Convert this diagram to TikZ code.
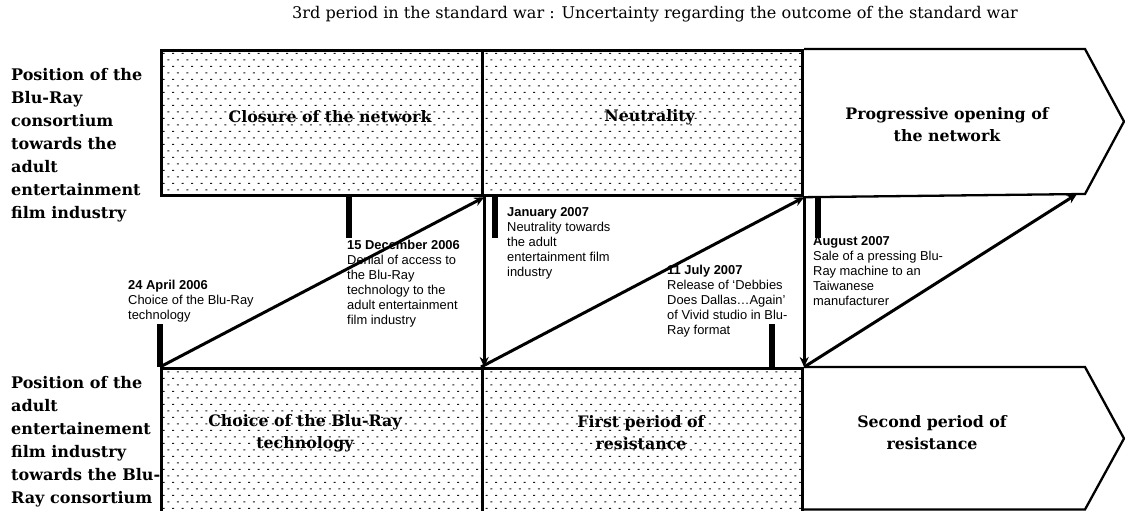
\documentclass[tikz,border=0pt]{standalone}
\usepackage{fontspec}
\setmainfont{DejaVu Serif}
\newfontfamily\notefont{Liberation Sans}
\usetikzlibrary{arrows.meta,patterns}

% staggered dash fill of the shaded periods
\pgfdeclarepatternformonly{stipple}{\pgfqpoint{-1pt}{-1pt}}{\pgfqpoint{11pt}{14pt}}{\pgfqpoint{9.5pt}{13pt}}{%
  \pgfpathrectangle{\pgfqpoint{1pt}{2pt}}{\pgfqpoint{2.2pt}{1.1pt}}%
  \pgfpathrectangle{\pgfqpoint{5.75pt}{8.5pt}}{\pgfqpoint{2.2pt}{1.1pt}}%
  \pgfusepath{fill}}

\tikzset{
  phaseBox/.style={
    rectangle,
    draw,
    line width=3.2pt,
    pattern=stipple,
    pattern color=black!90,
    anchor=north west,
    inner sep=0pt
  },
  phaseText/.style={
    font=\fontsize{15.8}{22}\selectfont\bfseries,
    align=center
  },
  sideLabel/.style={
    font=\fontsize{16}{23}\selectfont\bfseries,
    align=left,
    anchor=north west,
    inner sep=0pt
  },
  eventNote/.style={
    font=\notefont\fontsize{12.9}{15}\selectfont,
    align=left,
    anchor=north west,
    inner sep=0pt
  },
  shiftArrow/.style={line width=3pt, -{Stealth[length=10pt,width=9pt]}},
  tickBar/.style={line width=5.5pt},
  chevron/.style={draw, line width=2.3pt, line join=miter}
}

\begin{document}
\begin{tikzpicture}[x=1pt,y=1pt]
  \useasboundingbox[fill=white] (0,0) rectangle (1125,511);

  \node[font=\fontsize{16.1}{19}\selectfont] (title) at (655,497)
    {3rd period in the standard war : Uncertainty regarding the outcome of the standard war};

  % row labels
  \node[sideLabel] (consortium) at (11,443)
    {Position of the\\Blu-Ray\\consortium\\towards the\\adult\\entertainment\\film industry};
  \node[sideLabel] (industry) at (11,135)
    {Position of the\\adult\\entertainement\\film industry\\towards the Blu-\\Ray consortium};

  % upper row: the consortium
  \node[phaseBox, minimum width=321, minimum height=145] (closure) at (160,462) {};
  \node[phaseBox, minimum width=320, minimum height=145] (neutral) at (481,462) {};
  \coordinate (openTop) at (1085,462);
  \coordinate (openTip) at (1124,389.5);
  \coordinate (openBottom) at (1085,317);
  \coordinate (openFoot) at (1077,317);
  \draw[chevron] (neutral.north east) -- (openTop) -- (openTip) -- (openBottom) -- (neutral.south east);

  \node[phaseText] (closureText) at ([xshift=8,yshift=6]closure.center) {Closure of the network};
  \node[phaseText] (neutralText) at ([xshift=7,yshift=6]neutral.center) {Neutrality};
  \node[phaseText] (openText) at (947,386) {Progressive opening of\\the network};

  % lower row: the film industry
  \node[phaseBox, minimum width=321, minimum height=148] (choice) at (160,144) {};
  \node[phaseBox, minimum width=320, minimum height=148] (resistOne) at (481,144) {};
  \coordinate (resistTop) at (1085,144);
  \coordinate (resistTip) at (1124,72.5);
  \coordinate (resistBottom) at (1085,1.5);
  \draw[chevron] (resistOne.north east) -- (resistTop) -- (resistTip) -- (resistBottom) -- (801,1.5);

  \node[phaseText] (choiceText) at (305,78) {Choice of the Blu-Ray\\technology};
  \node[phaseText] (resistOneText) at (641,78) {First period of\\resistance};
  \node[phaseText] (resistTwoText) at (932,78) {Second period of\\resistance};

  % moves between the two actors
  \draw[shiftArrow] (choice.north west) -- (closure.south east);
  \draw[shiftArrow] (closure.south east) -- (choice.north east);
  \draw[shiftArrow] (resistOne.north west) -- (neutral.south east);
  \draw[shiftArrow] (neutral.south east) -- (resistOne.north east);
  \draw[shiftArrow] (resistOne.north east) -- (openFoot);

  % dated events
  \node[eventNote] (april) at (128,231)
    {\textbf{24 April 2006}\\Choice of the Blu-Ray\\technology};
  \node[eventNote] (december) at (347,271)
    {\textbf{15 December 2006}\\Denial of access to\\the Blu-Ray\\technology to the\\adult entertainment\\film industry};
  \node[eventNote] (january) at (507,304)
    {\textbf{January 2007}\\Neutrality towards\\the adult\\entertainment film\\industry};
  \node[eventNote] (july) at (667,246)
    {\textbf{11 July 2007}\\Release of ‘Debbies\\Does Dallas…Again’\\of Vivid studio in Blu-\\Ray format};
  \node[eventNote] (august) at (813,275)
    {\textbf{August 2007}\\Sale of a pressing Blu-\\Ray machine to an\\Taiwanese\\manufacturer};

  \draw[tickBar] (choice.north west) -- ++(0,43);
  \draw[tickBar] ([xshift=189]closure.south west) -- ++(0,-41);
  \draw[tickBar] ([xshift=14]neutral.south west) -- ++(0,-41);
  \draw[tickBar] ([xshift=291]resistOne.north west) -- ++(0,43);
  \draw[tickBar] ([xshift=14]neutral.south east) -- ++(0,-41);
\end{tikzpicture}
\end{document}
